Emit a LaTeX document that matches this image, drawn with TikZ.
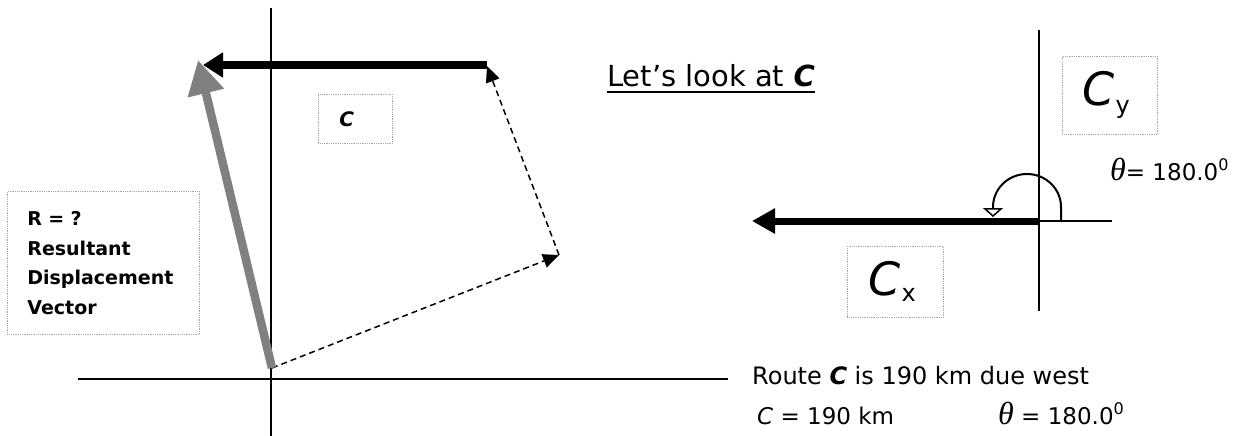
\documentclass[tikz,border=0pt]{standalone}
\usepackage{fontspec}
\setmainfont{DejaVu Sans}
\newfontfamily\thfont{Liberation Serif}
\usetikzlibrary{arrows.meta}
\definecolor{resgray}{RGB}{128,128,128}
\newcommand{\mytheta}[1]{{\fontsize{#1}{#1}\selectfont\thfont\itshape θ}}
\newcommand{\degz}{\raisebox{0.42em}{\fontsize{16}{16}\selectfont 0}}
\begin{document}
\begin{tikzpicture}[x=1pt,y=-1pt,
  axis/.style={line width=1.3pt},
  dotbox/.style={draw=gray!70, densely dotted, line width=0.8pt, inner ysep=0pt},
  txt/.style={inner sep=0pt, anchor=base west},
  vecC/.style={line width=8pt, -{Triangle[length=20pt,width=24pt]}},
  vecCx/.style={line width=7pt, -{Triangle[length=23pt,width=24pt]}},
  vecR/.style={line width=8.5pt, draw=resgray, -{Triangle[length=34pt,width=35pt,fill=resgray]}},
  dashvec/.style={line width=1.5pt, dash pattern=on 6pt off 4pt, -{Triangle[length=16pt,width=14pt]}},
  turn/.style={line width=2pt, -{Triangle[open,length=9pt,width=20pt,line width=1.5pt]}}
]
\useasboundingbox (0,0) rectangle (1237,436);
\fill[white] (0,0) rectangle (1237,436);

% left axes
\coordinate (vt) at (271,8);
\coordinate (vb) at (271,436);
\coordinate (hl) at (78,379);
\coordinate (hr) at (728,379);
\draw[axis] (vt) -- (vb);
\draw[axis] (hl) -- (hr);

% vector points
\coordinate (O) at (272,368);
\coordinate (P) at (559,255);
\coordinate (Q) at (487,66);
\coordinate (Cs) at (487,65);
\coordinate (Ce) at (203,65);
\coordinate (Rt) at (198,60);

\draw[dashvec] (O) -- (P);
\draw[dashvec] (P) -- (Q);
\draw[vecC] (Cs) -- (Ce);
\draw[vecR] (O) -- (Rt);

% boxes on the left
\node[dotbox, anchor=north west, minimum width=74pt, minimum height=49pt,
      text width=32pt, inner xsep=21pt, align=left,
      font=\fontsize{20}{24}\selectfont\bfseries\itshape] (cbox) at (318,94) {C};
\node[dotbox, anchor=north west, minimum width=192pt, minimum height=143pt,
      text width=152pt, inner xsep=20pt, align=left,
      font=\fontsize{19}{29.5}\selectfont\bfseries] (rbox) at (7,191)
      {R = ?\\Resultant\\Displacement\\Vector};

% title
\node[txt, font=\fontsize{29}{34}\selectfont] (look) at (607,87)
      {Let’s look at \textbf{\textit{C}}};
\draw[line width=2.5pt] ([yshift=-5pt]look.base west) -- ([yshift=-5pt]look.base east);

% right axes
\coordinate (rvt) at (1039,30);
\coordinate (rvb) at (1039,311);
\coordinate (ro) at (1039,221);
\coordinate (rhr) at (1112,221);
\coordinate (cxt) at (752,221);
\draw[axis] (rvt) -- (rvb);
\draw[axis] (ro) -- (rhr);
\draw[vecCx] (ro) -- (cxt);

% turning arc
\coordinate (arcS) at (1061,222);
\draw[turn] (arcS) -- ++(0,-15) arc[start angle=0, end angle=-180, x radius=34, y radius=33] -- ++(0,10);

% component boxes
\node[dotbox, anchor=north west, minimum width=95pt, minimum height=78pt,
      text width=55pt, inner xsep=20pt, align=left] (cybox) at (1062,56)
      {\fontsize{46}{50}\selectfont\itshape C\kern1pt\raisebox{-8pt}{\fontsize{24}{24}\selectfont\upshape y}};
\node[dotbox, anchor=north west, minimum width=96pt, minimum height=71pt,
      text width=54pt, inner xsep=21pt, align=left] (cxbox) at (847,246)
      {\fontsize{46}{50}\selectfont\itshape C\kern1pt\raisebox{-6pt}{\fontsize{24}{24}\selectfont\upshape x}};

% angle label
\node[txt, font=\fontsize{23}{26}\selectfont] (th1) at (1110,180)
      {\mytheta{32}= 180.0\degz};

% bottom texts
\node[txt, font=\fontsize{24}{26}\selectfont] (route) at (752,384)
      {Route \textbf{\textit{C}} is 190 km due west};
\node[txt, font=\fontsize{23}{26}\selectfont] (cval) at (757,424)
      {\textit{C} = 190 km};
\node[txt, font=\fontsize{23}{26}\selectfont] (th2) at (998,424)
      {\mytheta{32} = 180.0\degz};
\end{tikzpicture}
\end{document}
